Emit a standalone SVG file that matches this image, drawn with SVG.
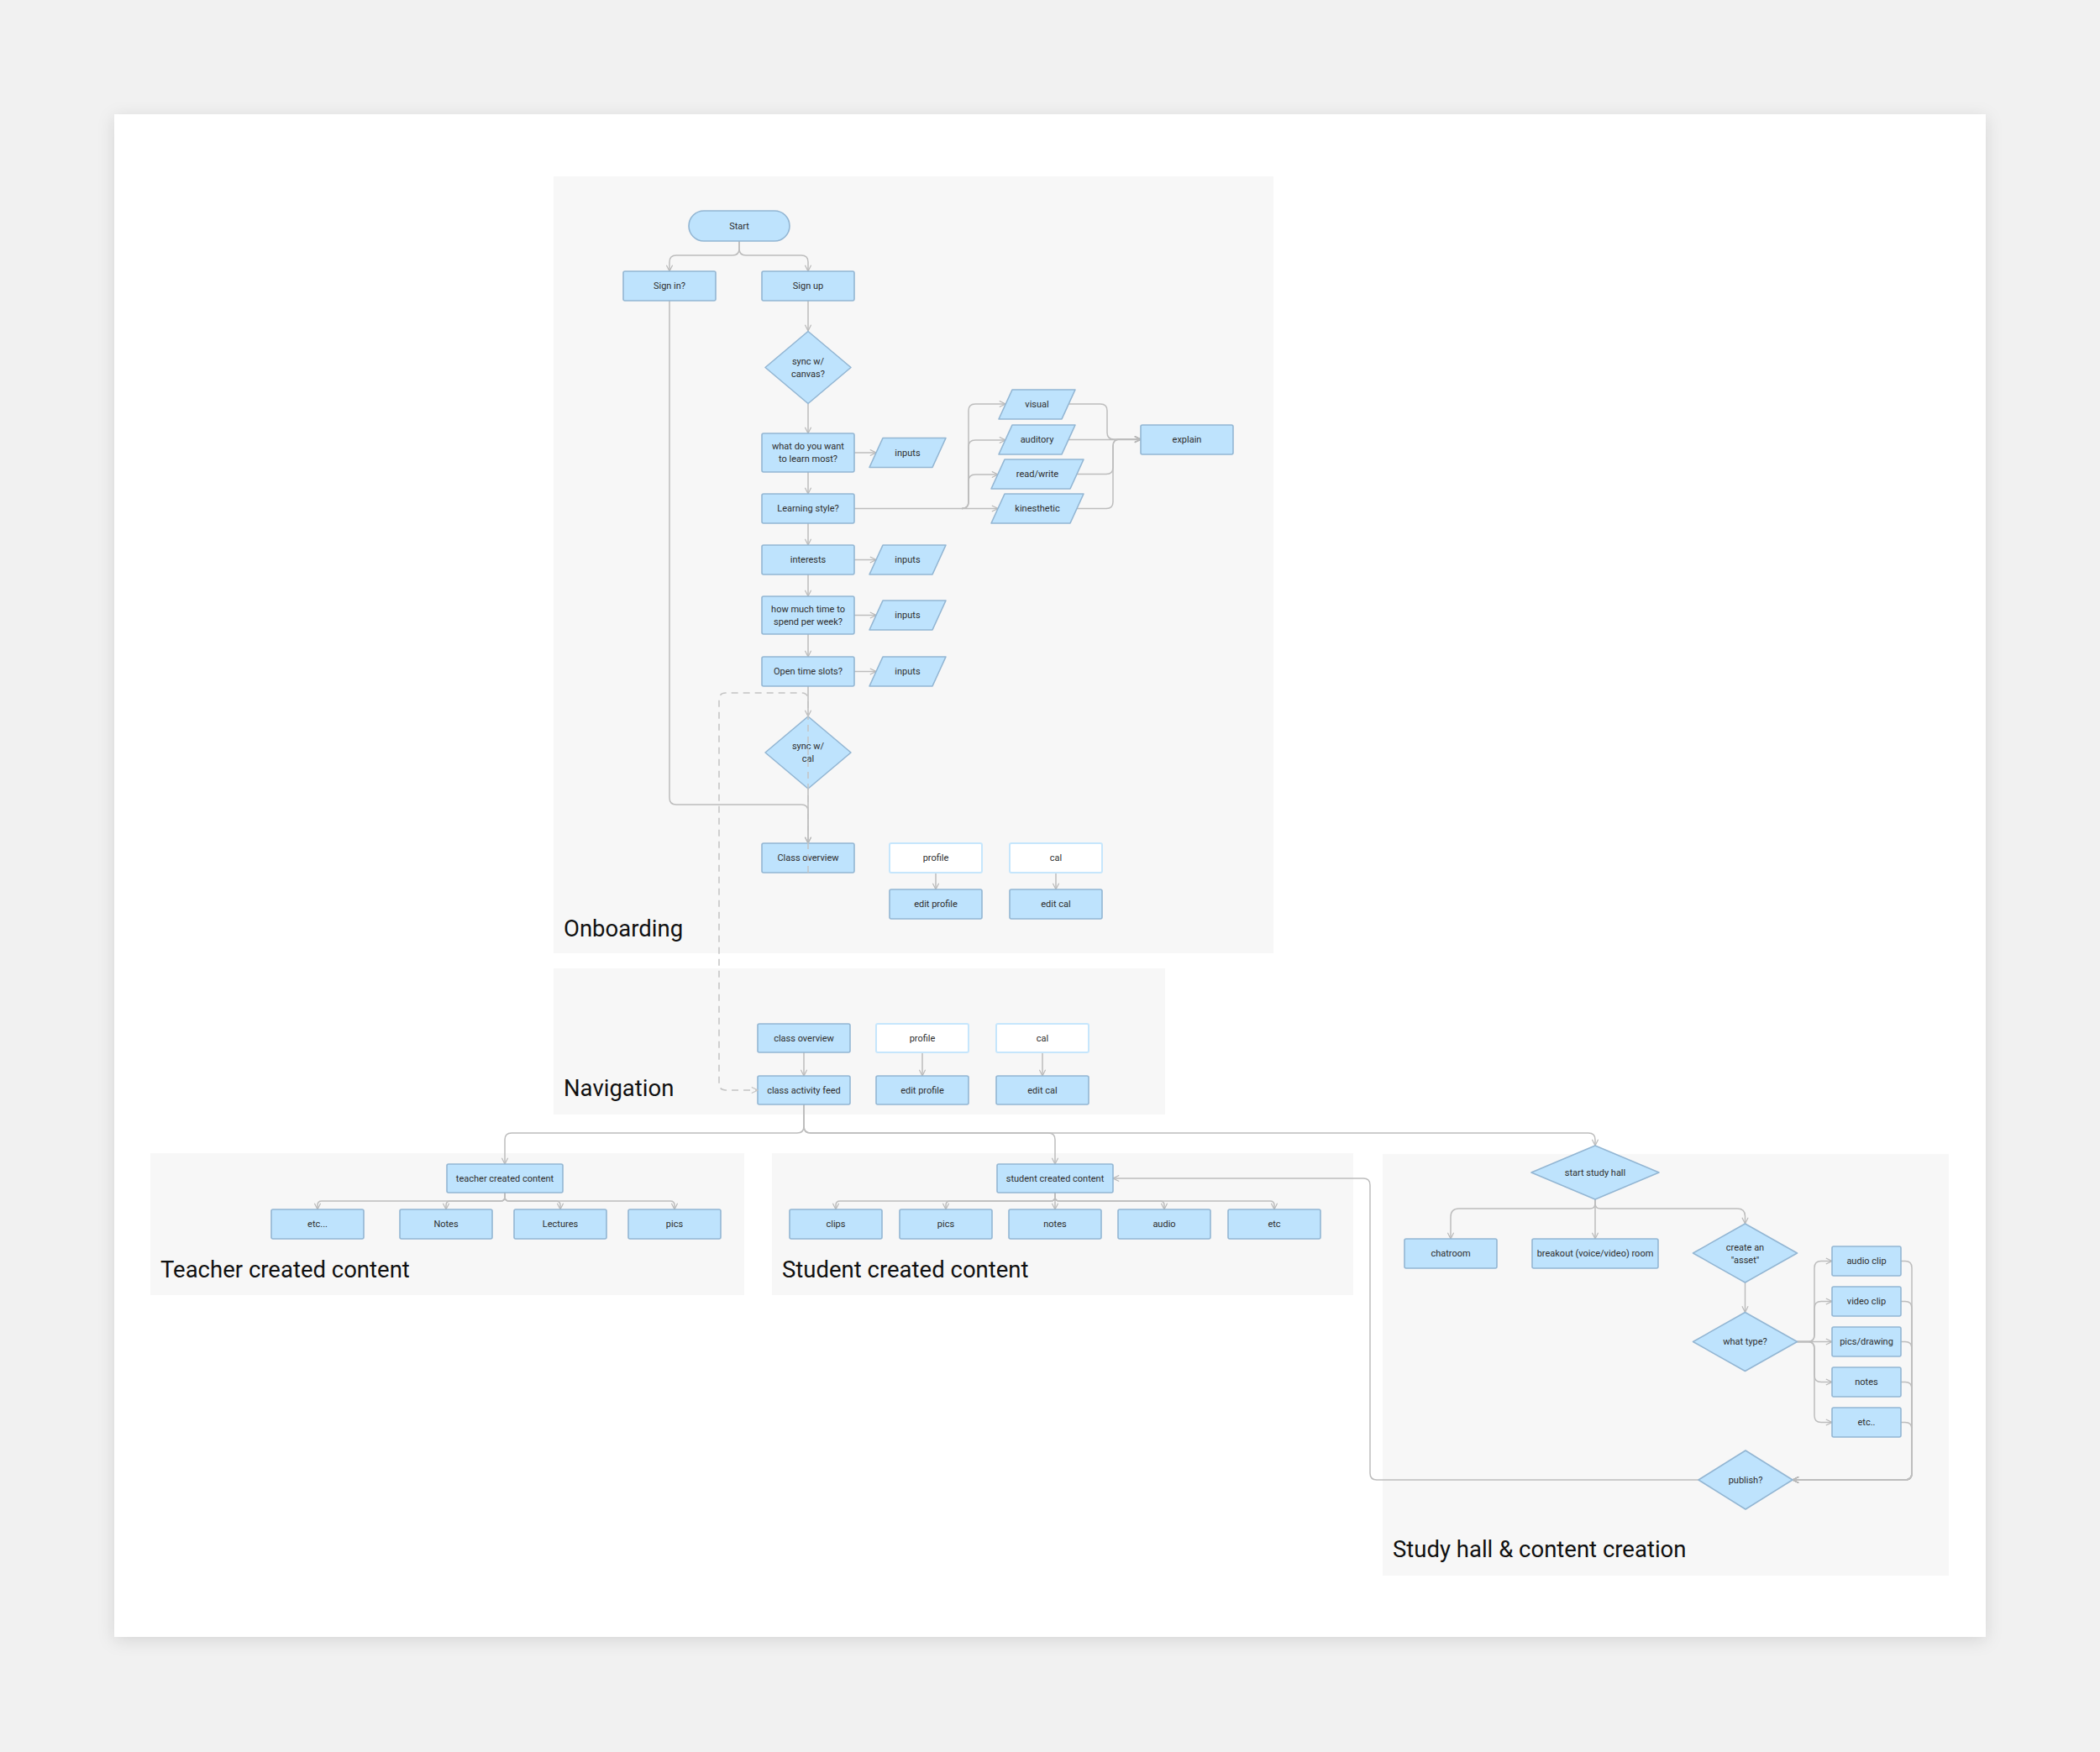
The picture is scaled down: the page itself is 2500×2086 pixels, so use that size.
<svg xmlns="http://www.w3.org/2000/svg" width="2500" height="2086" viewBox="0 0 2500 2086">
<defs>
<filter id="shadow" x="-5%" y="-5%" width="110%" height="110%">
<feDropShadow dx="0" dy="4" stdDeviation="10" flood-color="#000" flood-opacity="0.12"/>
</filter>
<marker id="arr" viewBox="0 0 10 10" refX="9" refY="5" markerWidth="9" markerHeight="9" markerUnits="userSpaceOnUse" orient="auto">
<path d="M1,1 L9,5 L1,9" fill="none" stroke="#b8b8b8" stroke-width="1.3"/>
</marker>
<marker id="arrd" viewBox="0 0 10 10" refX="9" refY="5" markerWidth="9" markerHeight="9" markerUnits="userSpaceOnUse" orient="auto">
<path d="M1,1 L9,5 L1,9" fill="none" stroke="#c4c4c4" stroke-width="1.3"/>
</marker>
<style>
.panel{fill:#f7f7f7}
.n{fill:#bee3fd;stroke:#93b6d3;stroke-width:1.6}
.w{fill:#ffffff;stroke:#c6e6fc;stroke-width:2}
.t{font-family:Roboto,"Liberation Sans",sans-serif;font-size:11px;fill:#2e2e2e;text-anchor:middle;dominant-baseline:central}
.sec{font-family:Roboto,"Liberation Sans",sans-serif;font-size:27.5px;fill:#111}
.c{fill:none;stroke:#bdbdbd;stroke-width:1.5;marker-end:url(#arr)}
.d{fill:none;stroke:#c4c4c4;stroke-width:1.5;stroke-dasharray:8 6;marker-end:url(#arrd)}
</style>
</defs>
<rect x="0" y="0" width="2500" height="2086" fill="#f1f1f1"/>
<rect x="136" y="136" width="2228" height="1813" fill="#ffffff" filter="url(#shadow)"/>

<g id="panels">
<rect class="panel" x="659" y="210" width="857" height="925"/>
<rect class="panel" x="659" y="1153" width="728" height="174"/>
<rect class="panel" x="179" y="1373" width="707" height="169"/>
<rect class="panel" x="919" y="1373" width="692" height="169"/>
<rect class="panel" x="1646" y="1374" width="674" height="502"/>
<text class="sec" x="671" y="1115">Onboarding</text>
<text class="sec" x="671" y="1305">Navigation</text>
<text class="sec" x="191" y="1521">Teacher created content</text>
<text class="sec" x="931" y="1521">Student created content</text>
<text class="sec" x="1658" y="1854">Study hall &amp; content creation</text>
</g>

<g id="connectors">
<path class="c" d="M880 287 V296 Q880 304 872 304 H805 Q797 304 797 312 V323"/>
<path class="c" d="M880 287 V296 Q880 304 888 304 H954 Q962 304 962 312 V323"/>
<path class="c" d="M962 358 V394"/>
<path class="c" d="M962 481 V516"/>
<path class="c" d="M1017 539 H1043"/>
<path class="c" d="M962 562 V588"/>
<path class="c" d="M1017 605.5 H1188"/>
<path class="c" d="M1145 605.5 Q1153 605.5 1153 597.5 V489 Q1153 481 1161 481 H1197"/>
<path class="c" d="M1145 605.5 Q1153 605.5 1153 597.5 V532 Q1153 524 1161 524 H1197"/>
<path class="c" d="M1145 605.5 Q1153 605.5 1153 597.5 V573 Q1153 565 1161 565 H1188"/>
<path class="c" d="M1272 481 H1310 Q1318 481 1318 489 V515 Q1318 523 1326 523 H1358"/>
<path class="c" d="M1272 523.5 H1358"/>
<path class="c" d="M1282 564.5 H1317 Q1325 564.5 1325 556.5 V531 Q1325 523 1333 523 H1358"/>
<path class="c" d="M1282 605.5 H1317 Q1325 605.5 1325 597.5 V531 Q1325 523 1333 523 H1358"/>
<path class="c" d="M962 623 V649"/>
<path class="c" d="M1017 666.5 H1043"/>
<path class="c" d="M962 684 V710"/>
<path class="c" d="M1017 732.5 H1043"/>
<path class="c" d="M962 755 V782"/>
<path class="c" d="M1017 799.5 H1043"/>
<path class="c" d="M962 817 V853"/>
<path class="c" d="M962 939 V1004"/>
<path class="c" d="M797 358 V950 Q797 958 805 958 H954 Q962 958 962 966 V1004"/>
<path class="c" d="M1114 1039 V1059"/>
<path class="c" d="M1257 1039 V1059"/>
<path class="c" d="M957 1253 V1281"/>
<path class="c" d="M1098 1253 V1281"/>
<path class="c" d="M1241 1253 V1281"/>
<path class="c" d="M957 1315 V1341 Q957 1349 949 1349 H609 Q601 1349 601 1357 V1386"/>
<path class="c" d="M957 1315 V1341 Q957 1349 965 1349 H1248 Q1256 1349 1256 1357 V1386"/>
<path class="c" d="M957 1315 V1341 Q957 1349 965 1349 H1891 Q1899 1349 1899 1357 V1364"/>
<path class="c" d="M601 1420 V1425 Q601 1430 596 1430 H383 Q378 1430 378 1435 V1440"/>
<path class="c" d="M601 1420 V1425 Q601 1430 596 1430 H536 Q531 1430 531 1435 V1440"/>
<path class="c" d="M601 1420 V1425 Q601 1430 606 1430 H662 Q667 1430 667 1435 V1440"/>
<path class="c" d="M601 1420 V1425 Q601 1430 606 1430 H798 Q803 1430 803 1435 V1440"/>
<path class="c" d="M1256 1420 V1425 Q1256 1430 1251 1430 H1000 Q995 1430 995 1435 V1440"/>
<path class="c" d="M1256 1420 V1425 Q1256 1430 1251 1430 H1131 Q1126 1430 1126 1435 V1440"/>
<path class="c" d="M1256 1420 V1440"/>
<path class="c" d="M1256 1420 V1425 Q1256 1430 1261 1430 H1381 Q1386 1430 1386 1435 V1440"/>
<path class="c" d="M1256 1420 V1425 Q1256 1430 1261 1430 H1512 Q1517 1430 1517 1435 V1440"/>
<path class="c" d="M1899 1428 V1433 Q1899 1439 1893 1439 H1737 Q1727 1439 1727 1449 V1475"/>
<path class="c" d="M1899 1428 V1475"/>
<path class="c" d="M1899 1428 V1433 Q1899 1439 1905 1439 H2068 Q2077.5 1439 2077.5 1448 V1457"/>
<path class="c" d="M2077.5 1527 V1562.5"/>
<path class="c" d="M2139.5 1597.5 H2152 Q2160 1597.5 2160 1589.5 V1509.5 Q2160 1501.5 2168 1501.5 H2181"/>
<path class="c" d="M2139.5 1597.5 H2152 Q2160 1597.5 2160 1589.5 V1557.5 Q2160 1549.5 2168 1549.5 H2181"/>
<path class="c" d="M2139.5 1597.5 H2181"/>
<path class="c" d="M2139.5 1597.5 H2152 Q2160 1597.5 2160 1605.5 V1637.5 Q2160 1645.5 2168 1645.5 H2181"/>
<path class="c" d="M2139.5 1597.5 H2152 Q2160 1597.5 2160 1605.5 V1685.5 Q2160 1693.5 2168 1693.5 H2181"/>
<path class="c" d="M2263 1501.5 H2268 Q2276 1501.5 2276 1509.5 V1754 Q2276 1762 2268 1762 H2134"/>
<path class="c" d="M2263 1549.5 H2268 Q2276 1549.5 2276 1557.5 V1754 Q2276 1762 2268 1762 H2134"/>
<path class="c" d="M2263 1597.5 H2268 Q2276 1597.5 2276 1605.5 V1754 Q2276 1762 2268 1762 H2134"/>
<path class="c" d="M2263 1645.5 H2268 Q2276 1645.5 2276 1653.5 V1754 Q2276 1762 2268 1762 H2134"/>
<path class="c" d="M2263 1693.5 H2268 Q2276 1693.5 2276 1701.5 V1754 Q2276 1762 2268 1762 H2134"/>
<path class="c" d="M2022 1762 H1639 Q1631 1762 1631 1754 V1411 Q1631 1403 1623 1403 H1325"/>
</g>

<g id="start"><rect class="n" x="820" y="251" width="120" height="36" rx="18"/><text class="t" x="880" y="269">Start</text></g>
<g id="sign-in"><rect class="n" x="742" y="323" width="110" height="35" rx="2"/><text class="t" x="797" y="340.5">Sign in?</text></g>
<g id="sign-up"><rect class="n" x="907" y="323" width="110" height="35" rx="2"/><text class="t" x="962" y="340.5">Sign up</text></g>
<g id="sync-canvas"><polygon class="n" points="962,394.5 1013,437.5 962,480.5 911,437.5" stroke-linejoin="round"/><text class="t" x="962" y="430">sync w/</text><text class="t" x="962" y="445">canvas?</text></g>
<g id="learn-most"><rect class="n" x="907" y="516" width="110" height="46" rx="2"/><text class="t" x="962" y="531.5">what do you want</text><text class="t" x="962" y="546.5">to learn most?</text></g>
<g id="inputs-1"><polygon class="n" points="1051,521.5 1126,521.5 1110,556.5 1035,556.5" stroke-linejoin="round"/><text class="t" x="1080.5" y="539">inputs</text></g>
<g id="learning-style"><rect class="n" x="907" y="588" width="110" height="35" rx="2"/><text class="t" x="962" y="605.5">Learning style?</text></g>
<g id="visual"><polygon class="n" points="1205,464 1280,464 1264,499 1189,499" stroke-linejoin="round"/><text class="t" x="1234.5" y="481.5">visual</text></g>
<g id="auditory"><polygon class="n" points="1205,506 1280,506 1264,541 1189,541" stroke-linejoin="round"/><text class="t" x="1234.5" y="523.5">auditory</text></g>
<g id="read-write"><polygon class="n" points="1196,547 1290,547 1274,582 1180,582" stroke-linejoin="round"/><text class="t" x="1235" y="564.5">read/write</text></g>
<g id="kinesthetic"><polygon class="n" points="1196,588 1290,588 1274,623 1180,623" stroke-linejoin="round"/><text class="t" x="1235" y="605.5">kinesthetic</text></g>
<g id="explain"><rect class="n" x="1358" y="506" width="110" height="35" rx="2"/><text class="t" x="1413" y="523.5">explain</text></g>
<g id="interests"><rect class="n" x="907" y="649" width="110" height="35" rx="2"/><text class="t" x="962" y="666.5">interests</text></g>
<g id="inputs-2"><polygon class="n" points="1051,649 1126,649 1110,684 1035,684" stroke-linejoin="round"/><text class="t" x="1080.5" y="666.5">inputs</text></g>
<g id="time-per-week"><rect class="n" x="907" y="710" width="110" height="45" rx="2"/><text class="t" x="962" y="725">how much time to</text><text class="t" x="962" y="740">spend per week?</text></g>
<g id="inputs-3"><polygon class="n" points="1051,715 1126,715 1110,750 1035,750" stroke-linejoin="round"/><text class="t" x="1080.5" y="732.5">inputs</text></g>
<g id="open-slots"><rect class="n" x="907" y="782" width="110" height="35" rx="2"/><text class="t" x="962" y="799.5">Open time slots?</text></g>
<g id="inputs-4"><polygon class="n" points="1051,782 1126,782 1110,817 1035,817" stroke-linejoin="round"/><text class="t" x="1080.5" y="799.5">inputs</text></g>
<g id="sync-cal"><polygon class="n" points="962,853 1013,896 962,939 911,896" stroke-linejoin="round"/><text class="t" x="962" y="888.5">sync w/</text><text class="t" x="962" y="903.5">cal</text></g>
<g id="class-overview"><rect class="n" x="907" y="1004" width="110" height="35" rx="2"/><text class="t" x="962" y="1021.5">Class overview</text></g>
<g id="profile"><rect class="w" x="1059" y="1004" width="110" height="35" rx="2"/><text class="t" x="1114" y="1021.5">profile</text></g>
<g id="edit-profile"><rect class="n" x="1059" y="1059" width="110" height="35" rx="2"/><text class="t" x="1114" y="1076.5">edit profile</text></g>
<g id="cal"><rect class="w" x="1202" y="1004" width="110" height="35" rx="2"/><text class="t" x="1257" y="1021.5">cal</text></g>
<g id="edit-cal"><rect class="n" x="1202" y="1059" width="110" height="35" rx="2"/><text class="t" x="1257" y="1076.5">edit cal</text></g>

<g id="nav-class-overview"><rect class="n" x="902" y="1219" width="110" height="34" rx="2"/><text class="t" x="957" y="1236">class overview</text></g>
<g id="class-activity-feed"><rect class="n" x="902" y="1281" width="110" height="34" rx="2"/><text class="t" x="957" y="1298">class activity feed</text></g>
<g id="nav-profile"><rect class="w" x="1043" y="1219" width="110" height="34" rx="2"/><text class="t" x="1098" y="1236">profile</text></g>
<g id="nav-edit-profile"><rect class="n" x="1043" y="1281" width="110" height="34" rx="2"/><text class="t" x="1098" y="1298">edit profile</text></g>
<g id="nav-cal"><rect class="w" x="1186" y="1219" width="110" height="34" rx="2"/><text class="t" x="1241" y="1236">cal</text></g>
<g id="nav-edit-cal"><rect class="n" x="1186" y="1281" width="110" height="34" rx="2"/><text class="t" x="1241" y="1298">edit cal</text></g>

<g id="teacher-content"><rect class="n" x="532" y="1386" width="138" height="34" rx="2"/><text class="t" x="601" y="1403">teacher created content</text></g>
<g id="t-etc"><rect class="n" x="323" y="1440" width="110" height="35" rx="2"/><text class="t" x="378" y="1457.5">etc...</text></g>
<g id="t-notes"><rect class="n" x="476" y="1440" width="110" height="35" rx="2"/><text class="t" x="531" y="1457.5">Notes</text></g>
<g id="t-lectures"><rect class="n" x="612" y="1440" width="110" height="35" rx="2"/><text class="t" x="667" y="1457.5">Lectures</text></g>
<g id="t-pics"><rect class="n" x="748" y="1440" width="110" height="35" rx="2"/><text class="t" x="803" y="1457.5">pics</text></g>

<g id="student-content"><rect class="n" x="1187" y="1386" width="138" height="34" rx="2"/><text class="t" x="1256" y="1403">student created content</text></g>
<g id="s-clips"><rect class="n" x="940" y="1440" width="110" height="35" rx="2"/><text class="t" x="995" y="1457.5">clips</text></g>
<g id="s-pics"><rect class="n" x="1071" y="1440" width="110" height="35" rx="2"/><text class="t" x="1126" y="1457.5">pics</text></g>
<g id="s-notes"><rect class="n" x="1201" y="1440" width="110" height="35" rx="2"/><text class="t" x="1256" y="1457.5">notes</text></g>
<g id="s-audio"><rect class="n" x="1331" y="1440" width="110" height="35" rx="2"/><text class="t" x="1386" y="1457.5">audio</text></g>
<g id="s-etc"><rect class="n" x="1462" y="1440" width="110" height="35" rx="2"/><text class="t" x="1517" y="1457.5">etc</text></g>

<g id="start-study-hall"><polygon class="n" points="1899,1364 1975,1396 1899,1428 1823,1396" stroke-linejoin="round"/><text class="t" x="1899" y="1396">start study hall</text></g>
<g id="chatroom"><rect class="n" x="1672" y="1475" width="110" height="35" rx="2"/><text class="t" x="1727" y="1492.5">chatroom</text></g>
<g id="breakout"><rect class="n" x="1824" y="1475" width="150" height="35" rx="2"/><text class="t" x="1899" y="1492.5">breakout (voice/video) room</text></g>
<g id="create-asset"><polygon class="n" points="2077.5,1457 2139.5,1492 2077.5,1527 2015.5,1492" stroke-linejoin="round"/><text class="t" x="2077.5" y="1485">create an</text><text class="t" x="2077.5" y="1500">"asset"</text></g>
<g id="what-type"><polygon class="n" points="2077.5,1562.5 2139.5,1597.5 2077.5,1632.5 2015.5,1597.5" stroke-linejoin="round"/><text class="t" x="2077.5" y="1597.5">what type?</text></g>
<g id="audio-clip"><rect class="n" x="2181" y="1484" width="82" height="35" rx="2"/><text class="t" x="2222" y="1501.5">audio clip</text></g>
<g id="video-clip"><rect class="n" x="2181" y="1532" width="82" height="35" rx="2"/><text class="t" x="2222" y="1549.5">video clip</text></g>
<g id="pics-drawing"><rect class="n" x="2181" y="1580" width="82" height="35" rx="2"/><text class="t" x="2222" y="1597.5">pics/drawing</text></g>
<g id="a-notes"><rect class="n" x="2181" y="1628" width="82" height="35" rx="2"/><text class="t" x="2222" y="1645.5">notes</text></g>
<g id="a-etc"><rect class="n" x="2181" y="1676" width="82" height="35" rx="2"/><text class="t" x="2222" y="1693.5">etc..</text></g>
<g id="publish"><polygon class="n" points="2078,1727 2134,1762 2078,1797 2022,1762" stroke-linejoin="round"/><text class="t" x="2078" y="1762">publish?</text></g>

<g id="connectors-dashed">
<path class="d" d="M962 1039 V833 Q962 825 954 825 H864 Q856 825 856 833 V1290 Q856 1298 864 1298 H902"/>
</g>
</svg>
